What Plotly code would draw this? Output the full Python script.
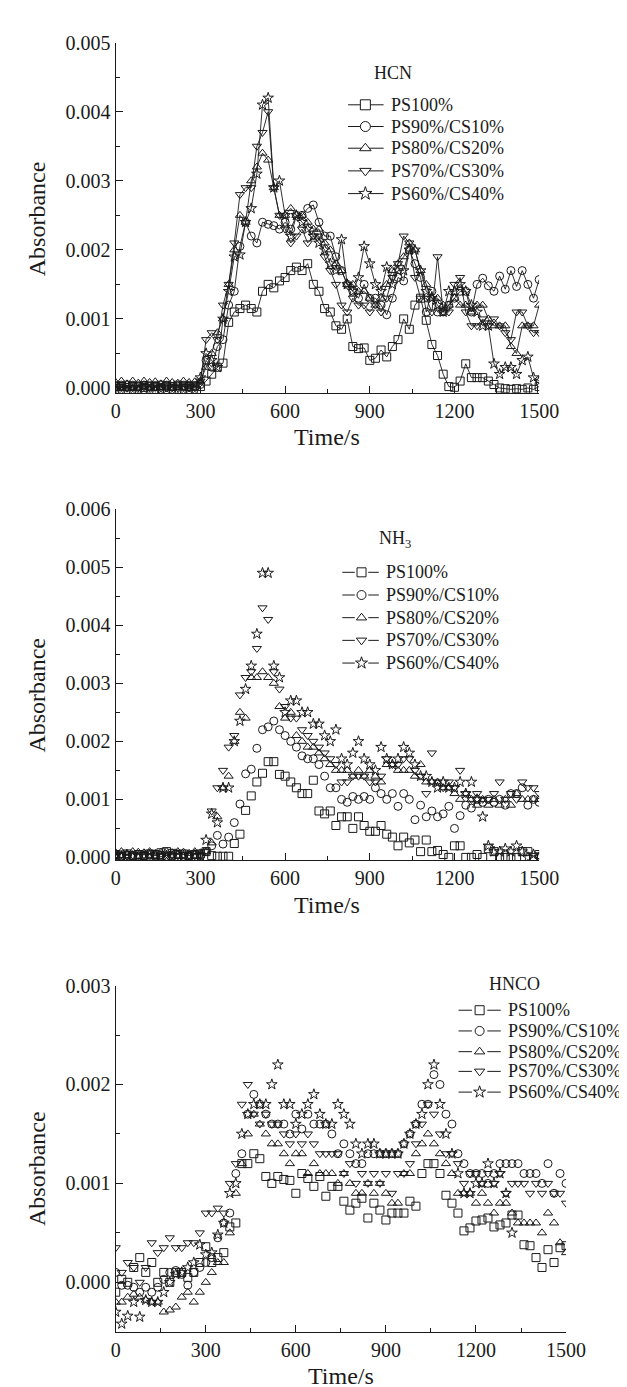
import plotly.graph_objects as go

# ---------------- data ----------------
T = list(range(0, 1501, 20))
SERIES = ["PS100%", "PS90%/CS10%", "PS80%/CS20%", "PS70%/CS30%", "PS60%/CS40%"]

HCN_PS100 = [0.00003, 0.00002, 0.00004, 0.00002, 0.00003, 0.00001, 0.00003, 0.00002, 0.00004, 0.00003,
             0.00002, 0.00004, 0.00003, 0.00002, 0.00003, 0.00002, 0.0001, 0.0002, 0.0003, 0.00036,
             0.00095, 0.0011, 0.00115, 0.0012, 0.00115, 0.0011, 0.0014, 0.0015, 0.00145, 0.00155,
             0.0016, 0.0017, 0.00175, 0.0017, 0.0018, 0.0015, 0.0014, 0.00115, 0.0011, 0.0009,
             0.00085, 0.001, 0.0006, 0.00057, 0.00058, 0.0004, 0.00043, 0.00055, 0.00045, 0.0006,
             0.0007, 0.001, 0.00085, 0.0012, 0.0013, 0.00098, 0.00063, 0.00047, 0.0002, 0.00002,
             0.00001, 0.0001, 0.00035, 0.00015, 0.00015, 0.00015, 0.0001, 0.00005, 0.0, -0.00001,
             -0.00002, -0.00001, -0.00002, 0.0, -0.00002, 0.00002]
HCN_PS90 = [0.00002, 0.00003, 0.00001, 0.00003, 0.00002, 0.00004, 0.00002, 0.00003, 0.00001, 0.00003,
            0.00002, 0.00003, 0.00002, 0.00004, 0.00002, 0.00005, 0.0004, 0.0003, 0.0006, 0.0007,
            0.0012, 0.0014, 0.00205, 0.0024, 0.0022, 0.0021, 0.0024, 0.00237, 0.00235, 0.0023,
            0.0024, 0.0023, 0.0025, 0.0025, 0.0026, 0.00265, 0.0024, 0.0022, 0.0022, 0.0019,
            0.0017, 0.0015, 0.0014, 0.0013, 0.0015, 0.0013, 0.0013, 0.0012, 0.00106, 0.0013,
            0.0016, 0.00155, 0.002, 0.0018, 0.0016, 0.0011, 0.0014, 0.0011, 0.0011, 0.0012,
            0.0013, 0.0014, 0.0014, 0.0011, 0.0015, 0.00159, 0.00148, 0.0014, 0.00162, 0.00143,
            0.0017, 0.00147, 0.0017, 0.0015, 0.0013, 0.00157]
HCN_PS80 = [0.00008, 0.0001, 0.00006, 0.0001, 0.00007, 0.0001, 0.00008, 0.00009, 0.00006, 0.0001,
            0.00008, 0.00007, 0.0001, 0.00008, 0.00009, 0.0001, 0.0003, 0.0005, 0.0008, 0.001,
            0.0015, 0.002, 0.0025, 0.0024, 0.003, 0.0032, 0.0034, 0.0033, 0.0029, 0.0025,
            0.0025, 0.0026, 0.0025, 0.0025, 0.0024, 0.0023, 0.0023, 0.0021, 0.002, 0.0018,
            0.0017, 0.0015, 0.0015, 0.0014, 0.0014, 0.0013, 0.0012, 0.0013, 0.0015, 0.0017,
            0.0018, 0.0019, 0.0021, 0.002, 0.0017, 0.0015, 0.0013, 0.0013, 0.0012, 0.0012,
            0.0013, 0.0012, 0.0012, 0.0011, 0.0012, 0.0012, 0.001, 0.0009, 0.0009, 0.0009,
            0.0006, 0.0005, 0.0009, 0.0009, 0.0009, 0.0012]
HCN_PS70 = [0.0, 0.00002, 0.0, 0.00001, 0.0, 0.00002, 0.0, 0.00001, 0.00002, 0.0,
            0.00001, 0.0, 0.00002, 0.0, 0.00001, 0.0001, 0.0007, 0.0008, 0.0007, 0.0012,
            0.0015, 0.0021, 0.0028, 0.0029, 0.0029, 0.0035, 0.0037, 0.004, 0.0029, 0.0025,
            0.0023, 0.0021, 0.0022, 0.0023, 0.0021, 0.0022, 0.0022, 0.0019, 0.0017, 0.0015,
            0.0012, 0.0011, 0.0013, 0.0012, 0.0012, 0.0011, 0.0012, 0.0011, 0.0013, 0.0016,
            0.0018, 0.0022, 0.0021, 0.0016, 0.0013, 0.0013, 0.0011, 0.0019, 0.0011, 0.0011,
            0.0015, 0.0016, 0.0011, 0.0009, 0.0009, 0.001, 0.0009, 0.001, 0.0009, 0.0008,
            0.0007, 0.0011, 0.0011, 0.0009, 0.0008, 0.0008]
HCN_PS60 = [-0.00003, -0.00002, -0.00004, -0.00002, -0.00003, -0.00001, -0.00003, -0.00004, -0.00002, -0.00001,
            -0.00002, -0.00003, -0.00002, -0.00001, -0.00002, 0.00015, 0.0005, 0.0004, 0.0003, 0.001,
            0.0014, 0.0019, 0.00193, 0.0024, 0.0026, 0.0031, 0.0041, 0.0042, 0.0029, 0.003,
            0.0025, 0.0022, 0.0025, 0.0024, 0.0023, 0.0022, 0.0021, 0.002, 0.0018, 0.0017,
            0.00215, 0.0015, 0.0014, 0.0016, 0.00205, 0.0018, 0.0015, 0.0014, 0.00175, 0.0015,
            0.0017, 0.0017, 0.002, 0.002, 0.0017, 0.0014, 0.0013, 0.0012, 0.0011, 0.0014,
            0.0014, 0.0015, 0.0014, 0.0012, 0.0011, 0.0009, 0.0009, 0.00035, 0.0002, 0.0003,
            0.0003, 0.0002, 0.0004, 0.00045, 0.00015, 0.0001]

NH3_PS100 = [0.00005, 0.00004, 0.00006, 0.00003, 0.00005, 0.00004, 0.00006, 0.00005, 0.00008, 0.0001,
             0.00007, 0.00005, 0.00006, 0.00004, 0.00005, 0.00006, 0.0001, 0.00003, 0.00002, 0.00002,
             0.00002, 0.00024, 0.0004, 0.00081, 0.00106, 0.0013, 0.00145, 0.00165, 0.00165, 0.00143,
             0.0014, 0.0013, 0.0012, 0.0011, 0.0011, 0.00133, 0.0008, 0.00075, 0.0008, 0.00055,
             0.0007, 0.0007, 0.0005, 0.0007, 0.00055, 0.00045, 0.00045, 0.00055, 0.0004, 0.00035,
             0.0002, 0.00035, 0.00025, 0.0003, 0.0001, 0.0003, 0.0001, 0.00012, 0.00005, 0.0,
             0.0002, 0.0002, 0.0, 0.0, 0.00005, 0.0, 0.00015, 0.0001, 0.0, 0.0,
             0.0, 0.0, 0.0001, 0.0001, 0.0, 0.00005]
NH3_PS90 = [0.00003, 0.00002, 0.00004, 0.00003, 0.00002, 0.00003, 0.00005, 0.00003, 0.00004, 0.00002,
            0.00003, 0.00004, 0.00002, 0.00003, 0.00004, 0.00003, 0.0001, 0.0002, 0.00038, 0.00023,
            0.00035, 0.0006, 0.00092, 0.00144, 0.00152, 0.00188, 0.0022, 0.00225, 0.00235, 0.0022,
            0.0021, 0.002, 0.0019, 0.00175, 0.0017, 0.0017, 0.0016, 0.0014, 0.0012, 0.0012,
            0.001, 0.00095, 0.00105, 0.001, 0.00105, 0.001, 0.0012, 0.0011, 0.001, 0.0011,
            0.00088, 0.0011, 0.001, 0.00065, 0.0009, 0.0007, 0.0008, 0.0007, 0.00075, 0.00088,
            0.0005, 0.00072, 0.0009, 0.00085, 0.001, 0.00095, 0.001, 0.00095, 0.001, 0.0009,
            0.0011, 0.0011, 0.0012, 0.0009, 0.001, 0.00095]
NH3_PS80 = [0.00008, 0.0001, 0.00007, 0.0001, 0.00009, 0.00008, 0.0001, 0.00007, 0.00009, 0.0001,
            0.00008, 0.0001, 0.00009, 0.00007, 0.0001, 0.00008, 0.0001, 0.00025, 0.0007, 0.0012,
            0.0014, 0.002, 0.0025, 0.0024, 0.0031, 0.0031, 0.0032, 0.0031, 0.003, 0.0026,
            0.0024, 0.0025, 0.0021, 0.002, 0.0019, 0.0019, 0.0018, 0.0017, 0.0016, 0.0015,
            0.0015, 0.0015, 0.0014, 0.0015, 0.0014, 0.0015, 0.0014, 0.0013, 0.0016, 0.0016,
            0.0015, 0.0015, 0.0015, 0.0014, 0.0016, 0.0013, 0.0013, 0.0013, 0.0012, 0.0012,
            0.0011, 0.001, 0.0011, 0.001, 0.0009, 0.001, 0.0009, 0.001, 0.0009, 0.001,
            0.0009, 0.0011, 0.001, 0.001, 0.001, 0.001]
NH3_PS70 = [0.00003, 0.00005, 0.00002, 0.00004, 0.00003, 0.00005, 0.00002, 0.00004, 0.00003, 0.00006,
            0.00004, 0.00003, 0.00005, 0.00004, 0.00003, 0.00005, 0.0001, 0.0008, 0.0012, 0.0015,
            0.0019, 0.0021, 0.0028, 0.0031, 0.0032, 0.0036, 0.0043, 0.0041, 0.0032, 0.0029,
            0.0026, 0.0024, 0.0024, 0.0022, 0.0021, 0.002, 0.0019, 0.0018, 0.0017, 0.0016,
            0.0013, 0.0013, 0.0014, 0.0014, 0.0014, 0.0013, 0.0013, 0.0014, 0.0017, 0.0016,
            0.0016, 0.0017, 0.0017, 0.0015, 0.0014, 0.0011, 0.0018, 0.0013, 0.0012, 0.0013,
            0.0012, 0.0015, 0.0011, 0.001, 0.0011, 0.001, 0.001, 0.0011, 0.0013, 0.001,
            0.0011, 0.001, 0.0013, 0.0012, 0.0012, 0.0011]
NH3_PS60 = [0.00003, 0.00002, 0.00004, 0.00002, 0.00003, 0.00002, 0.00004, 0.00003, 0.00002, 0.00003,
            0.00002, 0.00004, 0.00003, 0.00002, 0.00004, 0.00003, 0.0003, 0.00075, 0.0006, 0.0012,
            0.0012, 0.002, 0.00235, 0.0029, 0.0033, 0.00385, 0.0049, 0.0049, 0.0033, 0.0031,
            0.0025, 0.0027, 0.0027, 0.0025, 0.0025, 0.0023, 0.0023, 0.0021, 0.002, 0.0022,
            0.0017, 0.0016, 0.0018, 0.002, 0.0017, 0.0016, 0.0015, 0.0019, 0.0017, 0.0016,
            0.0017, 0.0019, 0.0018, 0.0016, 0.0014, 0.0014, 0.0013, 0.0012, 0.0013, 0.0012,
            0.0012, 0.0013, 0.0011, 0.0013, 0.001, 0.0007, 0.0002, 0.0001, 0.0001, 0.00015,
            0.0001, 0.0002, 0.0001, 0.0, 0.00005, 0.0]

HNCO_PS100 = [-0.0001, 0.00003, 0.0, 0.00015, 0.00025, 0.0001, 0.0002, 0.0, 0.0001, 0.0,
              0.0001, 0.0001, 0.00005, 0.0001, 0.0002, 0.00036, 0.0002, 0.00025, 0.0003, 0.00056,
              0.0006, 0.0012, 0.0012, 0.0013, 0.00125, 0.00107, 0.001, 0.00107, 0.00104, 0.00103,
              0.0009, 0.0011, 0.00105, 0.00097, 0.00107, 0.00087, 0.00097, 0.00097, 0.00082, 0.00073,
              0.0008, 0.00085, 0.00065, 0.0008, 0.00073, 0.00063, 0.0007, 0.0007, 0.0007, 0.00082,
              0.00077, 0.0011, 0.0012, 0.0012, 0.0011, 0.00088, 0.0008, 0.0007, 0.00052, 0.00055,
              0.00062, 0.00063, 0.00065, 0.00056, 0.00058, 0.0006, 0.00068, 0.00068, 0.00038, 0.00037,
              0.00025, 0.00015, 0.00033, 0.0002, 0.00035, 0.00037]
HNCO_PS90 = [0.0001, -0.00003, -0.00003, -0.00005, -0.0001, -0.00005, -0.0001, -0.00005, 0.00003, 0.0001,
             0.00012, 0.00008, -0.00003, 0.0001, 0.00015, 0.0002, 0.00025, 0.00045, 0.0006, 0.0007,
             0.0011, 0.0013, 0.0017, 0.0019, 0.0018, 0.0017, 0.0016, 0.0016, 0.0016, 0.0015,
             0.0017, 0.00155, 0.0017, 0.0016, 0.0016, 0.0016, 0.0015, 0.0013, 0.0014, 0.0013,
             0.0012, 0.0012, 0.0013, 0.0013, 0.0013, 0.0013, 0.0013, 0.0013, 0.0014, 0.0015,
             0.0016, 0.0018, 0.0018, 0.0021, 0.002, 0.0017, 0.0016, 0.0013, 0.0012, 0.0011,
             0.0011, 0.0011, 0.001, 0.0011, 0.0012, 0.0012, 0.0012, 0.0012, 0.0011, 0.0011,
             0.0011, 0.001, 0.0012, 0.0009, 0.0011, 0.001]
HNCO_PS80 = [-0.0002, -0.0002, -0.00015, -0.00012, -0.00015, -0.00018, -0.0002, -0.0002, -0.0003, -0.00028,
             -0.00025, -0.00015, -0.0001, -0.0002, -0.0001, 0.0, 0.0001, 0.0002, 0.0002, 0.0005,
             0.0009, 0.0012, 0.0015, 0.0017, 0.0016, 0.0015, 0.0014, 0.0014, 0.0013, 0.0012,
             0.0013, 0.0013, 0.0011, 0.0012, 0.0011, 0.0011, 0.0011, 0.001, 0.0011, 0.001,
             0.0009, 0.0009, 0.001, 0.0009, 0.001, 0.0009, 0.0008, 0.0008, 0.0011, 0.0011,
             0.0013, 0.0014, 0.0015, 0.0014, 0.0013, 0.0012, 0.0011, 0.0009, 0.0009, 0.0009,
             0.0008, 0.0009, 0.0008, 0.0007, 0.0008, 0.0008, 0.0007, 0.0006, 0.0006, 0.0006,
             0.0006, 0.0005, 0.0007, 0.0006, 0.0004, 0.0003]
HNCO_PS70 = [0.00035, 0.0001, 0.0002, 0.00015, 0.0, 0.00015, 0.0004, 0.0003, 0.00035, 0.00045,
             0.00035, 0.00035, 0.0004, 0.0004, 0.0005, 0.0007, 0.0007, 0.00075, 0.0007, 0.001,
             0.0012, 0.0018, 0.002, 0.0017, 0.0016, 0.0017, 0.0016, 0.0016, 0.0015, 0.0014,
             0.0015, 0.0014, 0.0015, 0.0014, 0.0013, 0.0013, 0.0013, 0.0013, 0.0011, 0.0012,
             0.001, 0.0011, 0.001, 0.0011, 0.001, 0.0011, 0.0009, 0.0011, 0.0011, 0.0012,
             0.0014, 0.0016, 0.0018, 0.0017, 0.0015, 0.0013, 0.0013, 0.0012, 0.001, 0.0011,
             0.0011, 0.001, 0.0011, 0.001, 0.0011, 0.0009, 0.001, 0.001, 0.001, 0.0009,
             0.001, 0.0009, 0.001, 0.0009, 0.0009, 0.0008]
HNCO_PS60 = [-0.0003, -0.00042, -0.00034, -0.0002, -0.00035, -0.00018, -0.0002, -0.0002, -0.0001, 0.0,
             0.00008, 0.0001, 0.00015, 0.0002, 0.00038, 0.00028, 0.0003, 0.00048, 0.0006, 0.0009,
             0.001, 0.0015, 0.0017, 0.0018, 0.0018, 0.0018, 0.002, 0.0022, 0.0018, 0.0018,
             0.0016, 0.0017, 0.0018, 0.0019, 0.0017, 0.0016, 0.0016, 0.0018, 0.0017, 0.0016,
             0.0014, 0.0013, 0.0014, 0.0014, 0.0013, 0.0013, 0.0013, 0.0013, 0.0014, 0.0015,
             0.0016, 0.0017, 0.002, 0.0022, 0.0018, 0.0015, 0.0013, 0.0011, 0.0009, 0.0009,
             0.001, 0.001, 0.0012, 0.001, 0.0011, 0.0009, 0.0005, None, None, None,
             None, None, None, None, None, None]

X_TICKS = [0, 300, 600, 900, 1200, 1500]
PANEL_TITLES = ["HCN", "NH<sub>3</sub>", "HNCO"]

# ---------------- styling ----------------
FONT = "Liberation Serif"
INK = "#1a1a1a"
SYMBOLS = ["square-open", "circle-open", "triangle-up-open", "triangle-down-open", "star-open"]
SYMBOLS_FILLED = ["square", "circle", "triangle-up", "triangle-down", "star"]

W, H = 627, 1387
# pixel boxes of the three plot areas (left, right, top, bottom)
BOXES = [(107, 548, 24, 379), (107, 548, 497, 853), (107, 576, 980, 1331)]
YRANGES = [(-0.00007, 0.005), (-0.00005, 0.006), (-0.0005, 0.003)]
ABS_Y = [203, 686, 1166]
# legend layout per panel: line start, marker x, line end, gap around marker, text x, row y's
LEGENDS = [
    (349, 367, 386, 0, 392, [87, 109, 131, 154, 177]),
    (343, 363, 381, 7, 386, [561, 584, 607, 630, 653]),
    (464, 486, 508, 8, 513, [1005, 1026, 1047, 1067, 1088]),
]
TITLE_POS = [(396, 55), (398, 528), (522, 978)]


def px_x(p):
    return p / W


def px_y(p):
    return 1 - p / H


fig = go.Figure()

panels = [
    [HCN_PS100, HCN_PS90, HCN_PS80, HCN_PS70, HCN_PS60],
    [NH3_PS100, NH3_PS90, NH3_PS80, NH3_PS70, NH3_PS60],
    [HNCO_PS100, HNCO_PS90, HNCO_PS80, HNCO_PS70, HNCO_PS60],
]

for pi, data in enumerate(panels):
    xa = "x" if pi == 0 else f"x{pi + 1}"
    ya = "y" if pi == 0 else f"y{pi + 1}"
    for si, vals in enumerate(data):
        fig.add_trace(go.Scatter(
            x=T, y=vals, name=SERIES[si],
            mode="lines+markers" if pi == 0 else "markers",
            xaxis=xa, yaxis=ya, showlegend=False,
            line=dict(color=INK, width=0.9),
            marker=dict(symbol=SYMBOLS[si], size=8, color=INK, line=dict(width=1, color=INK)),
        ))

# hand-drawn legends on an invisible pixel-coordinate overlay axis
for pi, (x0, xm, x1, gap, xt, rows) in enumerate(LEGENDS):
    for si, ry in enumerate(rows):
        if gap:
            lx = [x0, xm - gap, None, xm + gap, x1]
            ly = [ry, ry, None, ry, ry]
        else:
            lx = [x0, x1]
            ly = [ry, ry]
        fig.add_trace(go.Scatter(
            x=lx, y=ly, mode="lines", xaxis="x4", yaxis="y4", showlegend=False,
            line=dict(color=INK, width=1), hoverinfo="skip", cliponaxis=False,
        ))
        fig.add_trace(go.Scatter(
            x=[xm], y=[ry], mode="markers", xaxis="x4", yaxis="y4", showlegend=False,
            marker=dict(symbol=SYMBOLS_FILLED[si], size=10 if pi == 0 else 9, color="white",
                        line=dict(width=1, color=INK)),
            hoverinfo="skip", cliponaxis=False,
        ))

axis_common = dict(
    showline=True, linecolor=INK, linewidth=1.3, ticks="inside", ticklen=7, tickwidth=1.3,
    tickcolor=INK, showgrid=False, zeroline=False, mirror=False,
    tickfont=dict(family=FONT, size=20, color=INK),
)

layout = dict(
    width=W, height=H, plot_bgcolor="rgba(0,0,0,0)", paper_bgcolor="white",
    margin=dict(l=0, r=0, t=0, b=0),
    font=dict(family=FONT, size=18, color=INK),
    showlegend=False,
    annotations=[],
    xaxis4=dict(domain=[0, 1], range=[0, W], visible=False, anchor="y4", fixedrange=True),
    yaxis4=dict(domain=[0, 1], range=[H, 0], visible=False, anchor="x4", fixedrange=True),
)

for pi, (l, r, t, b) in enumerate(BOXES):
    sfx = "" if pi == 0 else str(pi + 1)
    layout["xaxis" + sfx] = dict(
        axis_common, domain=[px_x(l), px_x(r)], range=[0, 1500],
        anchor="y" + sfx, tickvals=X_TICKS,
        minor=dict(ticks="inside", ticklen=4, tickwidth=1.3, tickcolor=INK, dtick=150, tick0=0),
    )
    layout["yaxis" + sfx] = dict(
        axis_common, domain=[px_y(b), px_y(t)], range=list(YRANGES[pi]),
        anchor="x" + sfx, dtick=0.001, tick0=0, tickformat=".3f",
        minor=dict(ticks="inside", ticklen=4, tickwidth=1.3, tickcolor=INK, dtick=0.0005, tick0=0),
    )
    layout["annotations"].append(dict(
        text="Absorbance", textangle=-90, x=px_x(25), y=px_y(ABS_Y[pi]),
        xref="paper", yref="paper", showarrow=False,
        font=dict(family=FONT, size=24, color=INK), xanchor="center", yanchor="middle",
    ))
    layout["annotations"].append(dict(
        text="Time/s", x=px_x((l + r) / 2), y=px_y(b + 45),
        xref="paper", yref="paper", showarrow=False,
        font=dict(family=FONT, size=24, color=INK), xanchor="center", yanchor="middle",
    ))
    tx, ty = TITLE_POS[pi]
    layout["annotations"].append(dict(
        text=PANEL_TITLES[pi], x=px_x(tx), y=px_y(ty), xref="paper", yref="paper",
        showarrow=False, font=dict(family=FONT, size=18, color=INK),
        xanchor="center", yanchor="middle",
    ))
    lg = LEGENDS[pi]
    for si, ry in enumerate(lg[5]):
        layout["annotations"].append(dict(
            text=SERIES[si], x=px_x(lg[4]), y=px_y(ry), xref="paper", yref="paper",
            showarrow=False, font=dict(family=FONT, size=18, color=INK),
            xanchor="left", yanchor="middle",
        ))

fig.update_layout(**layout)
fig.write_html("out.html")
